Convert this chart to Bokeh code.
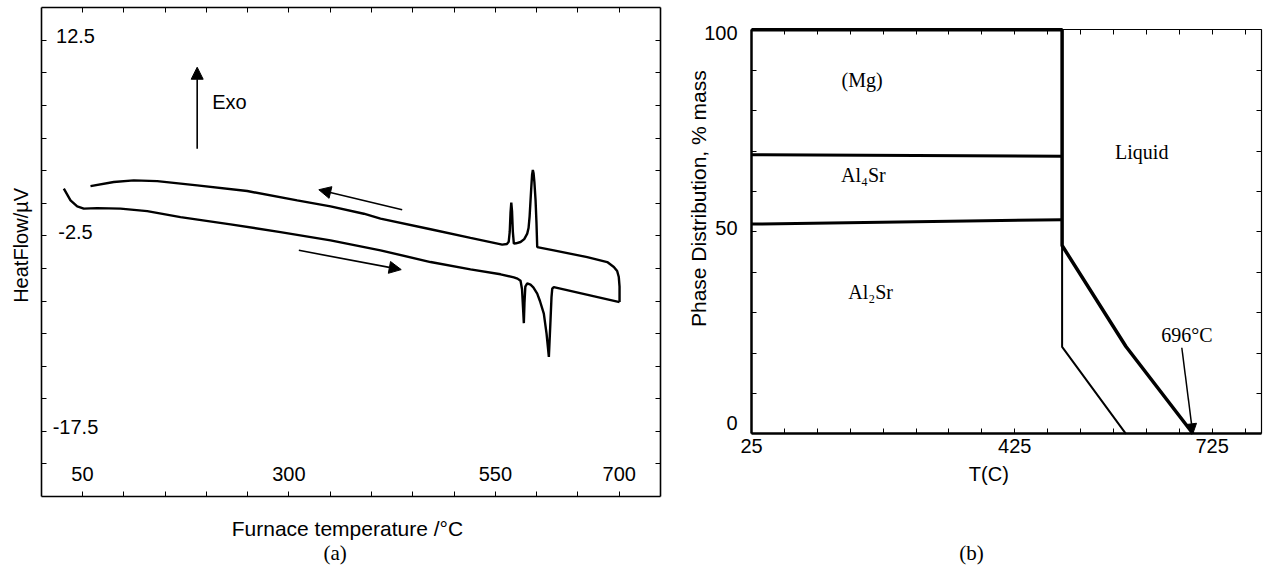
import math
from bokeh.plotting import figure
from bokeh.models import Range1d, LinearAxis, FixedTicker, Label, Arrow, NormalHead
from bokeh.embed import file_html
from bokeh.resources import INLINE
from bokeh.core.properties import value

SANS = "Liberation Sans"
SERIF = "Liberation Serif"

# ---------------- Panel (a): DSC heat-flow curves ----------------
# heating run (lower curve, left -> right)
heat_T = [27.4, 35.5, 43.6, 51.6, 67.8, 96.0, 128.4, 168.7, 229.3, 289.8, 350.4,
          410.9, 471.5, 519.9, 556.3, 572.4, 576.8, 580.5, 582.3, 583.5, 584.5,
          585.3, 586.3, 588.6, 592.6, 596.0, 600.7, 604.0, 608.7, 612.0, 614.8,
          616.8, 618.0, 618.9, 620.8, 700.4]
heat_HF = [1.12, 0.22, -0.24, -0.41, -0.37, -0.41, -0.60, -1.06, -1.62, -2.21, -2.85,
           -3.61, -4.51, -5.07, -5.45, -5.68, -5.78, -5.95, -6.6, -8.0, -9.2,
           -7.6, -6.4, -6.15, -6.25, -6.45, -6.93, -7.5, -8.47, -10.0, -11.79,
           -8.98, -7.2, -6.55, -6.43, -7.58]
# cooling run (upper curve, right -> left)
cool_T = [700.4, 700.4, 699.5, 697.5, 693.5, 685.5, 661.3, 620.8, 600.7, 599.8,
          598.7, 597.3, 596.3, 595.4, 594.5, 593.5, 592.6, 591.5, 590.2, 588.6,
          585.0, 580.5, 575.0, 572.4, 571.2, 570.2, 569.3, 568.4, 567.4, 566.2,
          564.0, 558.3, 519.9, 471.5, 410.9, 390.7, 350.4, 310.0, 249.5, 188.9,
          140.5, 112.1, 87.9, 59.7]
cool_HF = [-7.58, -6.4, -5.66, -5.2, -4.89, -4.51, -4.13, -3.61, -3.36, -1.5,
           0.22, 1.6, 2.3, 2.55, 2.2, 1.2, 0.22, -1.0, -1.9, -2.33,
           -2.75, -2.97, -3.07, -3.10, -2.2, -0.6, 0.05, -0.7, -2.2, -2.95,
           -3.12, -3.17, -2.65, -1.99, -1.18, -0.80, -0.24, 0.22, 0.94, 1.37,
           1.70, 1.76, 1.63, 1.32]

a_x_range = (0, 750)
a_y_range = (-22.5, 15)
a_x_ticks = [50, 100, 150, 200, 250, 300, 350, 400, 450, 500, 550, 600, 650, 700]
a_x_labels = [50, 300, 550, 700]
a_y_ticks = [12.5, 10, 7.5, 5, 2.5, 0, -2.5, -5, -7.5, -10, -12.5, -15, -17.5, -20]
a_y_labels = [12.5, -2.5, -17.5]

# arrows of panel (a): (x_start, y_start, x_end, y_end)
exo_arrow = (188.9, 4.19, 188.9, 10.44)
cool_arrow = (437.2, -0.49, 336.2, 1.04)
heat_arrow = (312.0, -3.61, 436.0, -5.09)

# ---------------- Panel (b): phase distribution ----------------
b_x_range = (25, 800)
b_y_range = (0, 100)
liq_T = [25, 497, 497, 594, 696]
liq_P = [100, 100, 46.6, 21.6, 0]
sol_T = [497, 497, 594]
sol_P = [46.6, 21.5, 0]
al4_T = [25, 497]
al4_P = [69.1, 68.7]
al2_T = [25, 497]
al2_P = [51.9, 53.0]

b_x_labels = [25, 425, 725]
b_x_minor = [75, 125, 175, 225, 275, 325, 375, 475, 525, 575, 625, 675, 775]
b_y_labels = [0, 50, 100]
b_y_minor = [10, 20, 30, 40, 60, 70, 80, 90]

phase_names = ["(Mg)", "Al\u2084Sr", "Al\u2082Sr", "Liquid", "696\u00b0C"]
phase_T = [193, 195, 206, 618, 686.5]
phase_P = [87.5, 64.1, 35.0, 69.7, 24.5]
arrow_696 = (678.9, 21.3, 695.6, 0.0)

# ---------------- layout (pixels on the page) ----------------
W, H = 1268, 571
A_L, A_R, A_T, A_B = 40.7, 660.0, 7.3, 496.0      # frame of panel (a)
B_L, B_R, B_T, B_B = 751.0, 1261.0, 29.3, 433.3   # frame of panel (b)


def canvas_range(lo, hi, p_lo, p_hi, total, flip=False):
    k = (hi - lo) / (p_hi - p_lo)
    if not flip:
        return Range1d(lo - p_lo * k, hi + (total - p_hi) * k)
    # vertical: p_lo is top pixel (value hi), p_hi bottom pixel (value lo)
    return Range1d(lo - (total - p_hi) * k, hi + p_lo * k)


p = figure(width=W, height=H,
           x_range=canvas_range(*a_x_range, A_L, A_R, W),
           y_range=canvas_range(*a_y_range, A_T, A_B, H, flip=True),
           x_axis_type=None, y_axis_type=None, output_backend="svg",
           toolbar_location=None, min_border=0)
p.extra_x_ranges = {"b": canvas_range(*b_x_range, B_L, B_R, W)}
p.extra_y_ranges = {"b": canvas_range(*b_y_range, B_T, B_B, H, flip=True)}
p.outline_line_color = None
p.background_fill_color = "white"
p.border_fill_color = "white"
p.grid.visible = False


def frame_axis(side, loc, bounds, ticks, width, minor=None, rn="default"):
    ax = LinearAxis(
        fixed_location=loc, bounds=bounds,
        ticker=FixedTicker(ticks=ticks, minor_ticks=minor or []),
        major_tick_in=5, major_tick_out=0, minor_tick_in=5, minor_tick_out=0,
        major_label_text_color=None,
        axis_line_width=width, axis_line_color="black",
        major_tick_line_color="black", minor_tick_line_color="black",
        x_range_name=rn, y_range_name=rn,
    )
    p.add_layout(ax, side)


# frame of (a)
frame_axis("left", a_x_range[0], a_y_range, a_y_ticks, 1.6)
frame_axis("right", a_x_range[1], a_y_range, a_y_ticks, 1.6)
frame_axis("below", a_y_range[0], a_x_range, a_x_ticks, 1.6)
frame_axis("above", a_y_range[1], a_x_range, a_x_ticks, 1.6)
# frame of (b)
frame_axis("left", b_x_range[0], b_y_range, b_y_labels, 2.5, b_y_minor, "b")
frame_axis("right", b_x_range[1], b_y_range, b_y_labels, 1.2, b_y_minor, "b")
frame_axis("below", b_y_range[0], b_x_range, b_x_labels, 2.5, b_x_minor, "b")
frame_axis("above", b_y_range[1], b_x_range, b_x_labels, 1.2, b_x_minor, "b")


def add_arrow(coords, size, lw, rn="default"):
    x0, y0, x1, y1 = coords
    p.add_layout(Arrow(end=NormalHead(size=size, fill_color="black", line_color="black"),
                       x_start=x0, y_start=y0, x_end=x1, y_end=y1,
                       line_width=lw, line_color="black",
                       x_range_name=rn, y_range_name=rn))


def add_label(x, y, text, font, size, angle=0.0, align="center", rn="default"):
    p.add_layout(Label(x=x, y=y, text=text, text_font=font, text_font_size=size,
                       angle=angle, text_align=align, text_baseline="middle",
                       text_color="black", x_range_name=rn, y_range_name=rn))


# ---------- panel (a) content ----------
p.line(heat_T, heat_HF, line_color="black", line_width=2.4)
p.line(cool_T, cool_HF, line_color="black", line_width=2.4)

p.text(x=[41.5] * len(a_y_labels), y=a_y_labels, y_offset=-4,
       text=[str(v) for v in a_y_labels], text_font=value(SANS), text_font_size="20px",
       text_align="center", text_baseline="middle", text_color="black")
p.text(x=a_x_labels, y=[a_y_range[0]] * len(a_x_labels), y_offset=-23,
       text=[str(v) for v in a_x_labels],
       text_font=value(SANS), text_font_size="20px",
       text_align="center", text_baseline="middle", text_color="black")

add_arrow(exo_arrow, 12, 1.6)
add_arrow(cool_arrow, 12, 1.6)
add_arrow(heat_arrow, 12, 1.6)
add_label(207, 7.76, "Exo", SANS, "20px", align="left")
add_label(-25.0, -3.23, "HeatFlow/\u00b5V", SANS, "20px", angle=math.pi / 2)
add_label(370.8, -24.96, "Furnace temperature /\u00b0C", SANS, "21px")
add_label(356.0, -26.85, "(a)", SERIF, "21px")

# ---------- panel (b) content ----------
p.line(al4_T, al4_P, line_color="black", line_width=3, x_range_name="b", y_range_name="b")
p.line(al2_T, al2_P, line_color="black", line_width=3, x_range_name="b", y_range_name="b")
p.line(sol_T, sol_P, line_color="black", line_width=2, x_range_name="b", y_range_name="b")
p.line(liq_T, liq_P, line_color="black", line_width=3.5, x_range_name="b", y_range_name="b")

p.text(x=phase_T, y=phase_P, text=phase_names, text_font=value(SERIF),
       text_font_size="20px", text_align="center", text_baseline="middle",
       text_color="black", x_range_name="b", y_range_name="b")
add_arrow(arrow_696, 10, 1.5, "b")

# tick labels of (b)
p.text(x=[b_x_range[0]] * len(b_y_labels), y=b_y_labels, x_offset=-14,
       y_offset=[-11, -4, 3], text=[str(v) for v in b_y_labels],
       text_font=value(SANS), text_font_size="20px", text_align="right",
       text_baseline="middle", text_color="black", x_range_name="b", y_range_name="b")
p.text(x=b_x_labels, y=[b_y_range[0]] * len(b_x_labels), y_offset=12,
       text=[str(v) for v in b_x_labels], text_font=value(SANS), text_font_size="20px",
       text_align="center", text_baseline="middle", text_color="black",
       x_range_name="b", y_range_name="b")

add_label(-55.1, 58.2, "Phase Distribution, % mass", SANS, "21px",
          angle=math.pi / 2, rn="b")
add_label(385.6, -10.0, "T(C)", SANS, "20px", rn="b")
add_label(359.3, -29.6, "(b)", SERIF, "21px", rn="b")

open("out.html", "w").write(file_html(p, INLINE))
